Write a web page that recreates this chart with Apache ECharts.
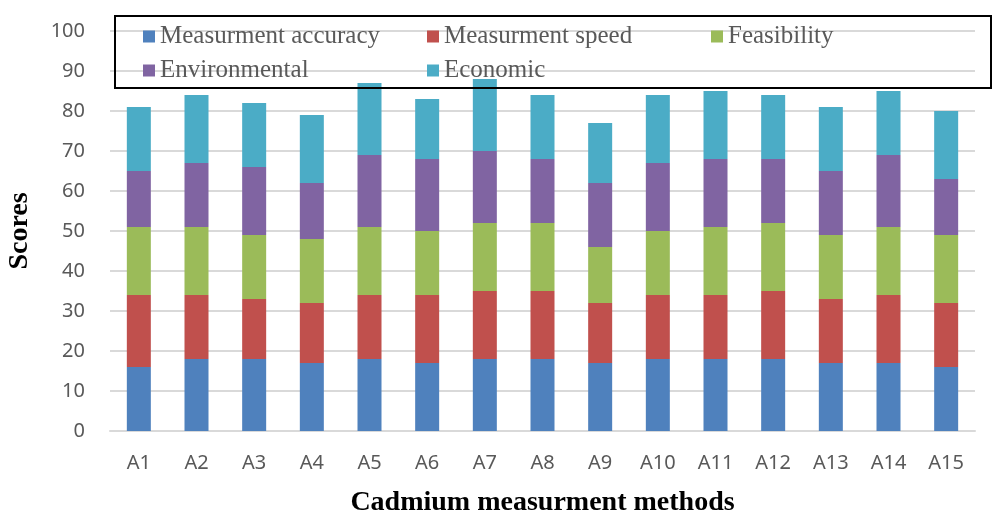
<!DOCTYPE html>
<html><head><meta charset="utf-8">
<script src="https://cdn.jsdelivr.net/npm/echarts@6/dist/echarts.min.js"></script>
<style>html,body{margin:0;padding:0;background:#fff}#c{width:1000px;height:530px}</style>
</head><body><div id="c"></div>
<script>
const categories = ['A1','A2','A3','A4','A5','A6','A7','A8','A9','A10','A11','A12','A13','A14','A15'];
const accuracy      = [16,18,18,17,18,17,18,18,17,18,18,18,17,17,16];
const speed         = [18,16,15,15,16,17,17,17,15,16,16,17,16,17,16];
const feasibility   = [17,17,16,16,17,16,17,17,14,16,17,17,16,17,17];
const environmental = [14,16,17,14,18,18,18,16,16,17,17,16,16,18,14];
const economic      = [16,17,16,17,18,15,18,16,15,17,17,16,16,16,17];
const yTicks = [0,10,20,30,40,50,60,70,80,90,100];

const seriesDefs = [
  ['Measurment accuracy', accuracy, '#4f81bd'],
  ['Measurment speed', speed, '#c0504d'],
  ['Feasibility', feasibility, '#9bbb59'],
  ['Environmental', environmental, '#8064a2'],
  ['Economic', economic, '#4bacc6']
];
const serif = '"Liberation Serif", "Times New Roman", serif';
const sans = '"Noto Sans", "Open Sans", sans-serif';
const chart = echarts.init(document.getElementById('c'));
chart.setOption({
  animation: false,
  grid: {left: 110, right: 25, top: 31, bottom: 99, containLabel: false, outerBoundsMode: 'none'},
  legend: {
    left: 138, top: 19, width: 870,
    itemWidth: 12, itemHeight: 12, itemGap: 9,
    icon: 'rect',
    textStyle: {fontFamily: serif, fontSize: 25, color: '#595959', width: 258, lineHeight: 25},
    data: seriesDefs.map(s => s[0])
  },
  graphic: [{
    type: 'rect', z: 100,
    shape: {x: 115, y: 16, width: 876, height: 72},
    style: {fill: 'none', stroke: '#000', lineWidth: 2}
  }],
  xAxis: {
    type: 'category', data: categories,
    axisLine: {lineStyle: {color: '#d9d9d9', width: 2}},
    axisTick: {show: false},
    axisLabel: {fontFamily: sans, fontSize: 20, color: '#595959', margin: 22},
    name: 'Cadmium measurment methods', nameLocation: 'middle', nameGap: 58,
    nameTextStyle: {fontFamily: serif, fontSize: 28, fontWeight: 'bold', color: '#000'}
  },
  yAxis: {
    type: 'value', min: yTicks[0], max: yTicks[yTicks.length-1], interval: 10,
    axisLine: {show: false}, axisTick: {show: false},
    splitLine: {lineStyle: {color: '#d9d9d9', width: 2}},
    axisLabel: {fontFamily: sans, fontSize: 20, color: '#595959', margin: 25},
    name: 'Scores', nameLocation: 'middle', nameGap: 76,
    nameTextStyle: {fontFamily: serif, fontSize: 28, fontWeight: 'bold', color: '#000'}
  },
  series: seriesDefs.map(s => ({
    name: s[0], type: 'bar', stack: 'total', data: s[1], barWidth: 24,
    itemStyle: {color: s[2]}
  }))
});
</script></body></html>
